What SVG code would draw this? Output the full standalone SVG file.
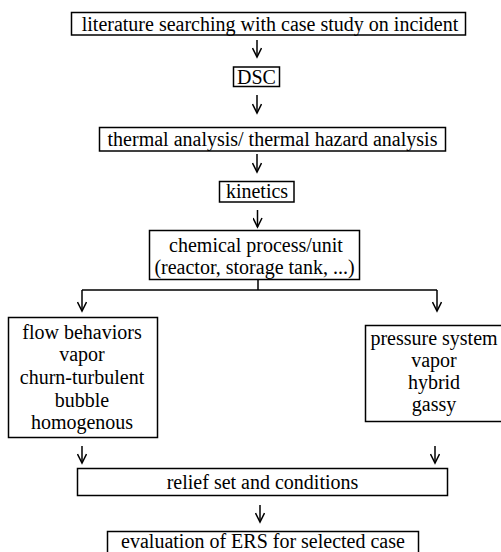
<svg xmlns="http://www.w3.org/2000/svg" width="501" height="552" viewBox="0 0 501 552">
<defs>
<style>
.box{fill:#fff;stroke:#000;stroke-width:1.5}
.t{font-family:'Liberation Serif','Times New Roman',serif;font-size:20px;fill:#000;text-anchor:middle}
.c{fill:none;stroke:#000;stroke-width:1.5}
</style>
<marker id="ah" markerWidth="12" markerHeight="10" refX="10" refY="5" orient="auto" markerUnits="userSpaceOnUse">
<path d="M1,0.5 L10,5 L1,9.5" fill="none" stroke="#000" stroke-width="1.5"/>
</marker>
</defs>
<rect width="501" height="552" fill="#fff"/>
<g id="connectors">
<path class="c" d="M257,40 V57" marker-end="url(#ah)"/>
<path class="c" d="M257,95 V113" marker-end="url(#ah)"/>
<path class="c" d="M257,154 V172" marker-end="url(#ah)"/>
<path class="c" d="M257.5,210 V227" marker-end="url(#ah)"/>
<path class="c" d="M258,280 V290 M82,290 H437"/>
<path class="c" d="M82,290 V311" marker-end="url(#ah)"/>
<path class="c" d="M437,290 V311" marker-end="url(#ah)"/>
<path class="c" d="M82,446 V463" marker-end="url(#ah)"/>
<path class="c" d="M435,446 V463" marker-end="url(#ah)"/>
<path class="c" d="M260,505 V522" marker-end="url(#ah)"/>
</g>
<g id="n1"><rect class="box" x="71.5" y="12.5" width="394" height="22.5"/><text class="t" x="270" y="30.5">literature searching with case study on incident</text></g>
<g id="n2"><rect class="box" x="233.5" y="67" width="46" height="19.5"/><text class="t" x="256.5" y="84">DSC</text></g>
<g id="n3"><rect class="box" x="99.5" y="127.5" width="346" height="23.5"/><text class="t" x="272.5" y="145.5">thermal analysis/ thermal hazard analysis</text></g>
<g id="n4"><rect class="box" x="219.5" y="181.5" width="74.5" height="20.5"/><text class="t" x="257" y="197.5">kinetics</text></g>
<g id="n5"><rect class="box" x="149.5" y="230.5" width="210" height="49"/><text class="t" x="256" y="251.5">chemical process/unit</text><text class="t" x="254.5" y="273.5">(reactor, storage tank, ...)</text></g>
<g id="n6"><rect class="box" x="8.5" y="317.5" width="149" height="120"/>
<text class="t" x="82" y="338.5">flow behaviors</text><text class="t" x="82" y="361">vapor</text><text class="t" x="82" y="384">churn-turbulent</text><text class="t" x="82" y="406.5">bubble</text><text class="t" x="82" y="428.5">homogenous</text></g>
<g id="n7"><rect class="box" x="365.5" y="325.5" width="140" height="96"/>
<text class="t" x="434" y="345">pressure system</text><text class="t" x="434" y="367">vapor</text><text class="t" x="434" y="389">hybrid</text><text class="t" x="434" y="411">gassy</text></g>
<g id="n8"><rect class="box" x="77.5" y="468.5" width="370" height="27"/><text class="t" x="262.5" y="489">relief set and conditions</text></g>
<g id="n9"><rect class="box" x="107.5" y="531.5" width="311" height="30"/><text class="t" x="263" y="548">evaluation of ERS for selected case</text></g>
</svg>
